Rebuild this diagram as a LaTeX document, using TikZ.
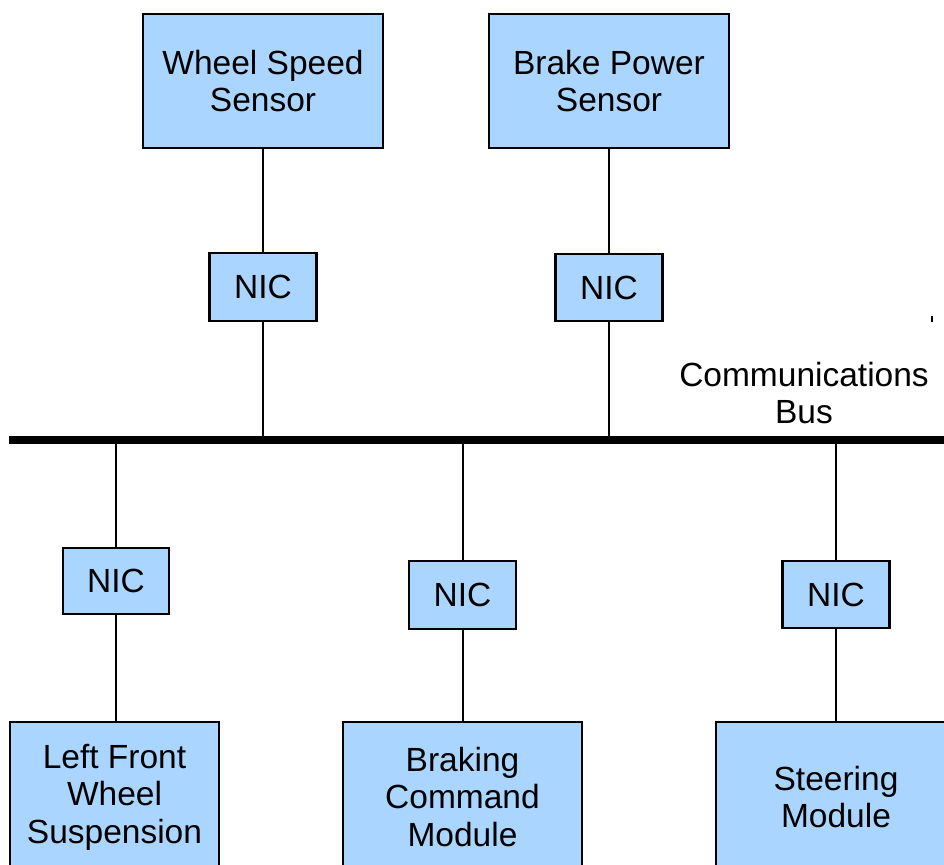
\documentclass[tikz,border=0pt]{standalone}
\usepackage{fontspec}
\setmainfont{Liberation Sans}
\definecolor{boxfill}{RGB}{170,213,255}
\begin{document}
\begin{tikzpicture}[x=1pt,y=-1pt,
  box/.style={draw=black, line width=2.8pt, fill=boxfill, inner sep=0pt,
    align=center, font=\fontsize{33.5}{37.5}\selectfont},
  link/.style={draw=black, line width=2pt}]
\useasboundingbox (0,0) rectangle (944,864);
\clip (0,0) rectangle (944,864);
\fill[white] (0,0) rectangle (944,864);
% top modules
\node[box, minimum width=240pt, minimum height=134pt] (ws) at (263,81) {Wheel Speed\\Sensor};
\node[box, minimum width=240pt, minimum height=134pt] (bp) at (609,81) {Brake Power\\Sensor};
\node[box, minimum width=107pt, minimum height=68pt] (nic1) at (263,287) {NIC};
\node[box, minimum width=107pt, minimum height=67pt] (nic2) at (609,287.5) {NIC};
% bus
\coordinate (busL) at (9,440);
\coordinate (busR) at (944,440);
\coordinate (b1) at (263,440);
\coordinate (b2) at (609,440);
\coordinate (b3) at (116,440);
\coordinate (b4) at (462.5,440);
\coordinate (b5) at (836,440);
\draw[line width=8pt] (busL) -- (busR);
\node[align=center, font=\fontsize{33.5}{37.5}\selectfont] (busLabel) at (804,393) {Communications\\Bus};
% bottom NICs
\node[box, minimum width=106pt, minimum height=66pt] (nic3) at (116,581) {NIC};
\node[box, minimum width=107pt, minimum height=68pt] (nic4) at (462.5,595) {NIC};
\node[box, minimum width=107pt, minimum height=67pt] (nic5) at (836,594.5) {NIC};
% bottom modules
\node[box, minimum width=209pt, minimum height=150pt] (lf) at (114.5,797) {Left Front\\Wheel\\Suspension};
\node[box, minimum width=239pt, minimum height=150pt] (bc) at (462.5,797) {Braking\\Command\\Module};
\node[box, minimum width=240pt, minimum height=150pt] (sm) at (836,797) {Steering\\Module};
% connectors
\draw[link] (ws.south) -- (nic1.north);
\draw[link] (nic1.south) -- (b1);
\draw[link] (bp.south) -- (nic2.north);
\draw[link] (nic2.south) -- (b2);
\draw[link] (b3) -- (nic3.north);
\draw[link] (nic3.south) -- (nic3.south |- lf.north);
\draw[link] (b4) -- (nic4.north);
\draw[link] (nic4.south) -- (bc.north);
\draw[link] (b5) -- (nic5.north);
\draw[link] (nic5.south) -- (sm.north);
% stray tick mark
\coordinate (tickA) at (932,316);
\coordinate (tickB) at (932,322);
\draw[line width=1.5pt] (tickA) -- (tickB);
\end{tikzpicture}
\end{document}
